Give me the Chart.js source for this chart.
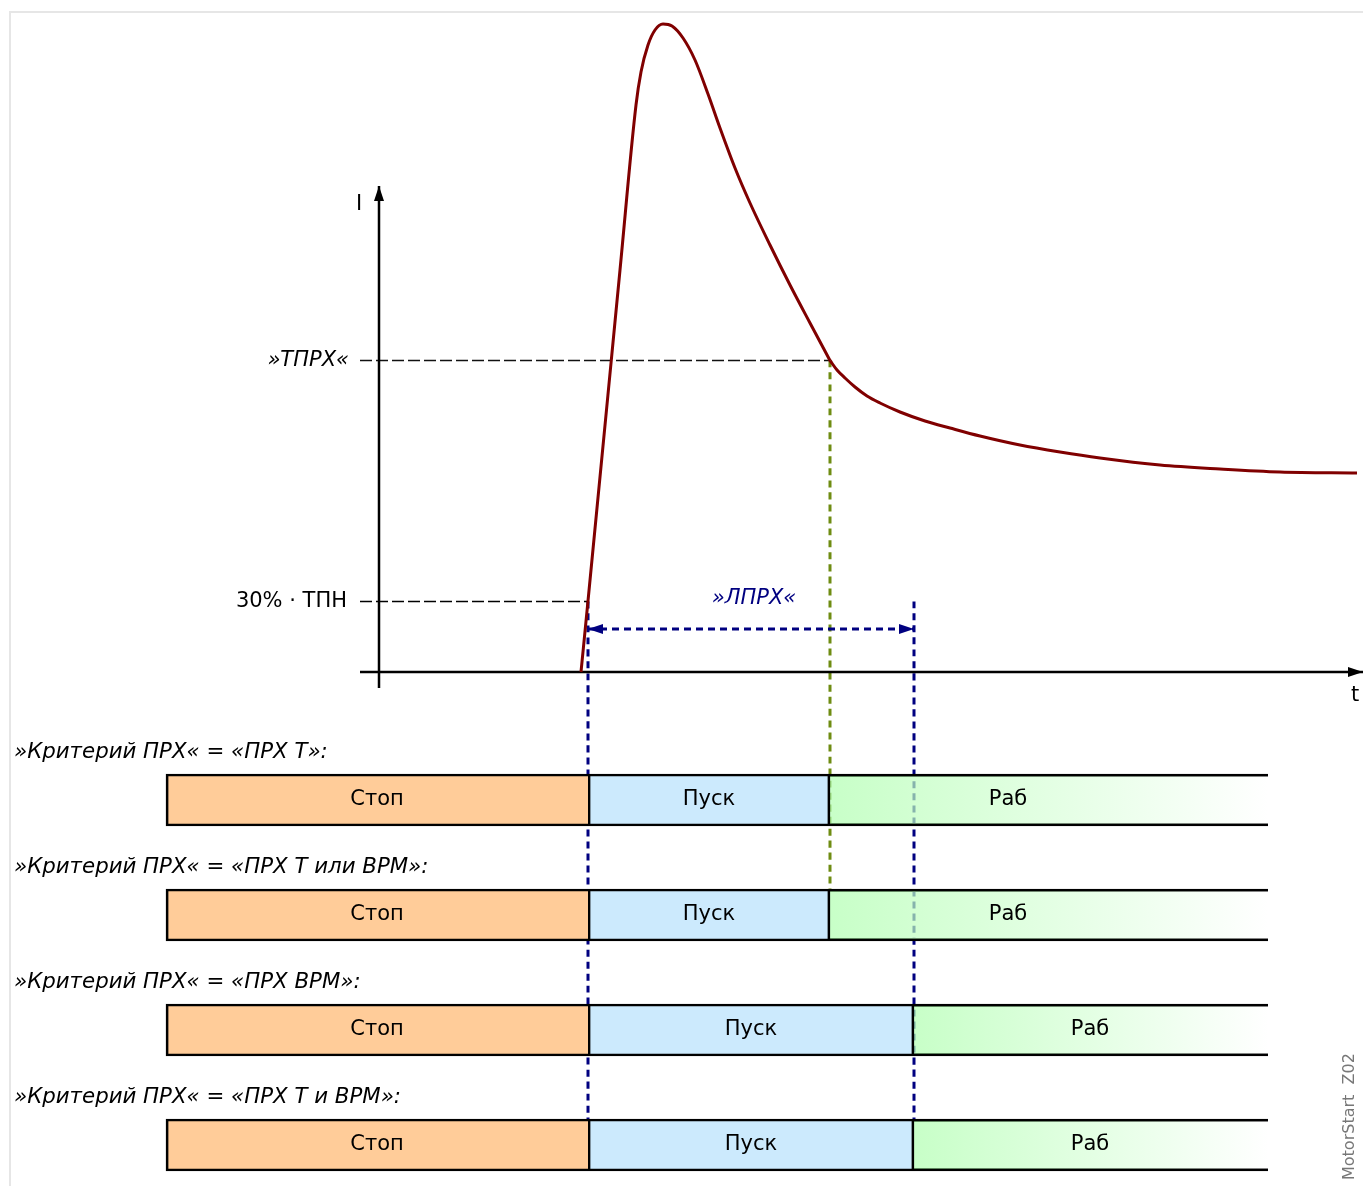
<!DOCTYPE html>
<html>
<head>
<meta charset="utf-8">
<script src="https://cdn.jsdelivr.net/npm/chart.js@4/dist/chart.umd.min.js"></script>
<style>
body{margin:0;background:#fff}
canvas{display:block}
</style>
</head>
<body>
<canvas id="chart" width="1363" height="1186"></canvas>
<script>
// ток при пуске: подъём до пика и спад до »ТПРХ«
const riseT=[20.2,20.9,24.1,25.7,26.2,26.9,27.6,28.4,29.3,30.4,31.6,32.9,34.1,35.6,37.1,39.1,41.1,43.1,45.1];
const riseI=[0,7.1,40.2,56.7,60.0,62.7,64.2,64.8,64.6,63.4,61.2,57.8,54.4,50.4,46.9,42.7,38.7,34.9,31.15];
// хвост после »ТПРХ«
const tailT=[45.1,45.8,46.6,47.6,48.8,50.1,52.1,54.6,57.1,60.1,64.1,68.1,72.1,78.1,84.1,90.1,97.8];
const tailI=[31.15,30.2,29.4,28.5,27.6,26.9,26.0,25.1,24.4,23.6,22.7,22.0,21.4,20.7,20.3,20.0,19.9];

const tprxLevel=31.15;  // »ТПРХ«
const lowLevel=7.05;    // 30% · ТПН
const tStart=20.9;      // начало пуска
const tTprx=45.1;       // ток упал ниже »ТПРХ«
const tLprx=53.5;       // конец »ЛПРХ«
const arrowLevel=4.3;
const levelLabels=['»ТПРХ«','30% · ТПН'];

// строки состояний
const rows=[-12.8,-24.3,-35.8,-47.3];
const rowTitles=['»Критерий ПРХ« = «ПРХ Т»:','»Критерий ПРХ« = «ПРХ Т или ВРМ»:','»Критерий ПРХ« = «ПРХ ВРМ»:','»Критерий ПРХ« = «ПРХ Т и ВРМ»:'];
const stateNames=['Стоп','Пуск','Раб'];
const stopFrom=[-21.3,-21.3,-21.3,-21.3];
const startFrom=[20.9,20.9,20.9,20.9];
const runFrom=[45.1,45.1,53.5,53.5];
const runTo=[88.9,88.9,88.9,88.9];
const runLabelAt=[62.9,62.9,71.1,71.1];

const FONT='"DejaVu Sans", sans-serif';
const NAVY='#000080';
const OLIVE='#6f8c12';

function pts(t,v){return t.map((x,k)=>({x:x,y:v[k]}));}

function runFill(ctx){
  const c=ctx.chart;
  if(!c.chartArea||ctx.type!=='data') return 'rgba(176,255,176,0.7)';
  const x=c.scales.x, d=ctx.raw;
  const g=c.ctx.createLinearGradient(x.getPixelForValue(d.x[0]),0,x.getPixelForValue(d.x[1]),0);
  g.addColorStop(0,'rgba(176,255,176,0.7)');
  g.addColorStop(1,'rgba(255,255,255,0.7)');
  return g;
}

function line(data,color,width,dash,order){
  return {type:'line',data:data,borderColor:color,borderWidth:width,borderDash:dash||[],
    pointRadius:0,fill:false,order:order||1};
}
function bar(from,to,bg,bw){
  return {type:'bar',indexAxis:'y',grouped:false,barThickness:52,order:3,
    data:rows.map((r,i)=>({x:[from[i],to[i]],y:r})),
    backgroundColor:bg,borderColor:'#000',borderWidth:bw,borderSkipped:false};
}

function tri(ctx,x,y,dir){
  const L=15,W=5;
  ctx.beginPath();
  if(dir==='up'){ctx.moveTo(x,y);ctx.lineTo(x-W,y+L);ctx.lineTo(x+W,y+L);}
  if(dir==='right'){ctx.moveTo(x,y);ctx.lineTo(x-L,y-W);ctx.lineTo(x-L,y+W);}
  if(dir==='left'){ctx.moveTo(x,y);ctx.lineTo(x+L,y-W);ctx.lineTo(x+L,y+W);}
  ctx.closePath();ctx.fill();
}

const decor={
  id:'decor',
  beforeDraw(chart){
    const c=chart.ctx;
    c.save();
    c.strokeStyle='#e6e6e6';c.lineWidth=2;
    c.beginPath();c.moveTo(10,chart.height);c.lineTo(10,12);c.lineTo(chart.width,12);c.stroke();
    c.restore();
  },
  afterDatasetsDraw(chart){
    const c=chart.ctx, X=chart.scales.x, Y=chart.scales.y;
    const px=v=>X.getPixelForValue(v), py=v=>Y.getPixelForValue(v);
    c.save();
    c.fillStyle='#000';
    tri(c,px(0),py(48.6),'up');
    tri(c,px(98.4),py(0),'right');
    c.fillStyle=NAVY;
    tri(c,px(tStart),py(arrowLevel),'left');
    tri(c,px(tLprx),py(arrowLevel),'right');

    c.textBaseline='middle';
    c.fillStyle='#000';
    c.font='21px '+FONT;
    c.textAlign='center';
    c.fillText('I',px(-2),py(48.6)+19);
    c.fillText('t',px(98.4)-8,py(0)+24);
    c.textAlign='right';
    c.font='italic 21px '+FONT;
    c.fillText(levelLabels[0],px(-1.9)-11,py(tprxLevel));
    c.font='21px '+FONT;
    c.fillText(levelLabels[1],px(-1.9)-13,py(lowLevel));
    c.textAlign='center';
    c.fillStyle=NAVY;
    c.font='italic 21px '+FONT;
    c.fillText('»ЛПРХ«',(px(tStart)+px(tLprx))/2+3,py(arrowLevel)-30);

    c.fillStyle='#000';
    rows.forEach((r,i)=>{
      c.font='italic 21.3px '+FONT;
      c.textAlign='left';
      c.fillText(rowTitles[i],14,py(r)-48);
      c.font='21px '+FONT;
      c.textAlign='center';
      c.fillText(stateNames[0],(px(stopFrom[i])+px(startFrom[i]))/2,py(r));
      c.fillText(stateNames[1],(px(startFrom[i])+px(runFrom[i]))/2,py(r));
      c.fillText(stateNames[2],px(runLabelAt[i]),py(r));
    });

    c.translate(1354,1180);
    c.rotate(-Math.PI/2);
    c.textAlign='left';c.textBaseline='alphabetic';
    c.fillStyle='#777';
    c.font='16px '+FONT;
    c.fillText('MotorStart  Z02',0,0);
    c.restore();
  }
};

new Chart(document.getElementById('chart'),{
  type:'line',
  data:{datasets:[
    line(pts(riseT,riseI),'#800000',3),
    line(pts(tailT,tailI),'#800000',3),
    line([{x:0,y:-1.6},{x:0,y:48.6}],'#000',2.5),
    line([{x:-1.9,y:0},{x:98.4,y:0}],'#000',2.5),
    line([{x:-1.9,y:tprxLevel},{x:tTprx,y:tprxLevel}],'#111',1.5,[12,4]),
    line([{x:-1.9,y:lowLevel},{x:tStart,y:lowLevel}],'#000',1.5,[12,4]),
    line([{x:tStart,y:arrowLevel},{x:tLprx,y:arrowLevel}],NAVY,3,[7,5]),
    line([{x:tStart,y:lowLevel},{x:tStart,y:-49.9}],NAVY,3,[7,5],5),
    line([{x:tLprx,y:lowLevel},{x:tLprx,y:-44.7}],NAVY,3,[7,5],5),
    line([{x:tTprx,y:tprxLevel},{x:tTprx,y:-21.7}],OLIVE,3,[7,5],5),
    bar(stopFrom,startFrom,'#ffcc99',{left:2.7,top:2.7,bottom:2.7,right:0}),
    bar(startFrom,runFrom,'#cceafd',2.7),
    bar(runFrom,runTo,runFill,{left:0,top:2.7,bottom:2.7,right:0})
  ]},
  options:{
    responsive:false,
    animation:false,
    events:[],
    layout:{padding:0},
    elements:{line:{cubicInterpolationMode:'monotone'}},
    plugins:{legend:{display:false},tooltip:{enabled:false},title:{display:false}},
    scales:{
      x:{type:'linear',min:-37.9,max:98.4,offset:false,display:false},
      y:{type:'linear',min:-51.4,max:67.2,offset:false,display:false}
    }
  },
  plugins:[decor]
});
</script>
</body>
</html>
